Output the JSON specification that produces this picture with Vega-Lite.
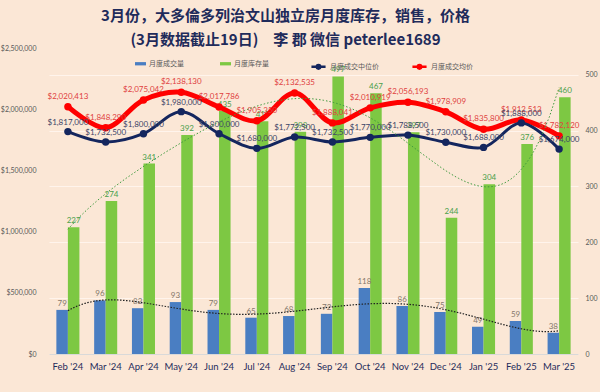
{
  "$schema": "https://vega.github.io/schema/vega-lite/v6.json",
  "width": 529,
  "height": 306,
  "autosize": {"type": "none"},
  "padding": {"left": 49, "top": 48, "right": 22, "bottom": 38},
  "background": "#FBE7D6",
  "config": {
    "view": {"stroke": null},
    "font": "Lato",
    "axis": {"labelFont": "Lato", "titleFont": "Lato"},
    "legend": {"labelFont": "Noto Sans CJK SC"}
  },
  "title": {
    "text": ["3月份，大多倫多列治文山独立房月度库存，销售，价格", "(3月数据截止19日)\u2003李 郡 微信 peterlee1689"],
    "font": "Noto Sans CJK SC",
    "fontSize": 15,
    "fontWeight": "bold",
    "color": "#1F2B5B",
    "lineHeight": 24,
    "anchor": "middle",
    "dx": -28,
    "offset": -4
  },
  "data": {
    "values": [
      {"month": "Feb '24", "idx": 0, "月度成交量": 79, "月度库存量": 227, "月度成交中位价": 1817000, "月度成交均价": 2020413},
      {"month": "Mar '24", "idx": 1, "月度成交量": 96, "月度库存量": 274, "月度成交中位价": 1732500, "月度成交均价": 1848290},
      {"month": "Apr '24", "idx": 2, "月度成交量": 82, "月度库存量": 341, "月度成交中位价": 1800000, "月度成交均价": 2075042},
      {"month": "May '24", "idx": 3, "月度成交量": 93, "月度库存量": 392, "月度成交中位价": 1980000, "月度成交均价": 2138130},
      {"month": "Jun '24", "idx": 4, "月度成交量": 79, "月度库存量": 435, "月度成交中位价": 1800000, "月度成交均价": 2017786},
      {"month": "Jul '24", "idx": 5, "月度成交量": 65, "月度库存量": 417, "月度成交中位价": 1680000, "月度成交均价": 1905350},
      {"month": "Aug '24", "idx": 6, "月度成交量": 68, "月度库存量": 398, "月度成交中位价": 1772500, "月度成交均价": 2132535},
      {"month": "Sep '24", "idx": 7, "月度成交量": 72, "月度库存量": 497, "月度成交中位价": 1732500, "月度成交均价": 1888041},
      {"month": "Oct '24", "idx": 8, "月度成交量": 118, "月度库存量": 467, "月度成交中位价": 1770000, "月度成交均价": 2010919},
      {"month": "Nov '24", "idx": 9, "月度成交量": 86, "月度库存量": 397, "月度成交中位价": 1788500, "月度成交均价": 2056193},
      {"month": "Dec '24", "idx": 10, "月度成交量": 75, "月度库存量": 244, "月度成交中位价": 1730000, "月度成交均价": 1978909},
      {"month": "Jan '25", "idx": 11, "月度成交量": 49, "月度库存量": 304, "月度成交中位价": 1688000, "月度成交均价": 1835800},
      {"month": "Feb '25", "idx": 12, "月度成交量": 59, "月度库存量": 376, "月度成交中位价": 1888000, "月度成交均价": 1912513},
      {"month": "Mar '25", "idx": 13, "月度成交量": 38, "月度库存量": 460, "月度成交中位价": 1674000, "月度成交均价": 1782120}
    ]
  },
  "resolve": {"scale": {"x": "independent", "y": "independent"}},
  "layer": [
    {
      "transform": [{"fold": ["月度成交量", "月度库存量"], "as": ["key", "value"]}],
      "encoding": {
        "x": {
          "field": "month", "type": "nominal", "sort": null,
          "scale": {"paddingInner": 0.39, "paddingOuter": 0.195},
          "axis": {"title": null, "labelAngle": 0, "labelFontSize": 9.5, "labelColor": "#1F2B5B", "labelPadding": 7, "ticks": false, "domainColor": "#D9D9D9", "domainWidth": 1}
        },
        "xOffset": {"field": "key", "type": "nominal", "sort": ["月度成交量", "月度库存量"], "scale": {"paddingInner": 0, "paddingOuter": 0}},
        "y": {
          "field": "value", "type": "quantitative",
          "scale": {"domain": [0, 548], "nice": false},
          "axis": {"orient": "right", "title": null, "values": [0, 100, 200, 300, 400, 500], "labelFontSize": 7, "labelColor": "#595959", "labelPadding": 7, "ticks": false, "domain": false, "grid": true, "gridColor": "#FFF4EC", "gridWidth": 1}
        }
      },
      "layer": [
        {
          "mark": {"type": "bar"},
          "encoding": {
            "fill": {
              "field": "key", "type": "nominal",
              "scale": {"domain": ["月度成交量", "月度库存量"], "range": ["#4A7EC2", "#7DC843"]},
              "legend": {
                "orient": "none", "legendX": 86, "legendY": 10, "direction": "horizontal", "title": null,
                "symbolType": "M-1,-0.3H1V0.3H-1Z", "symbolSize": 120, "symbolStrokeWidth": 0,
                "labelFontSize": 7, "labelColor": "#595959", "columnPadding": 36, "labelOffset": 3
              }
            }
          }
        },
        {
          "mark": {"type": "text", "baseline": "bottom", "dy": -2, "fontSize": 8},
          "encoding": {
            "text": {"field": "value", "type": "quantitative"},
            "color": {"condition": {"test": "datum.key === '月度成交量'", "value": "#85776A"}, "value": "#4AA04A"}
          }
        }
      ]
    },
    {
      "encoding": {
        "x": {"field": "month", "type": "nominal", "sort": null, "scale": {"paddingInner": 0.39, "paddingOuter": 0.195}, "axis": null},
        "y": {"type": "quantitative", "scale": {"domain": [0, 2500000], "nice": false},
          "axis": {"orient": "left", "title": null, "values": [0, 500000, 1000000, 1500000, 2000000, 2500000], "format": "$,d", "labelFontSize": 7, "labelColor": "#595959", "labelPadding": 13, "ticks": false, "domain": false, "grid": false}}
      },
      "layer": [
        {
          "mark": {"type": "line", "interpolate": "catmull-rom", "strokeWidth": 5},
          "encoding": {
            "y": {"field": "月度成交均价"},
            "stroke": {"datum": "月度成交均价", "scale": {"domain": ["月度成交中位价", "月度成交均价"], "range": ["#14265E", "#FF0000"]},
              "legend": {"orient": "none", "legendX": 261, "legendY": 10, "direction": "horizontal", "title": null,
                "symbolType": "M-1,0H1M0.25,0A0.25,0.25 0 1,1 -0.25,0A0.25,0.25 0 1,1 0.25,0", "symbolSize": 200, "symbolStrokeWidth": 2.5,
                "labelFontSize": 7, "labelColor": "#595959", "columnPadding": 28, "labelOffset": 3}}
          }
        },
        {
          "mark": {"type": "line", "interpolate": "catmull-rom", "strokeWidth": 3},
          "encoding": {
            "y": {"field": "月度成交中位价"},
            "stroke": {"datum": "月度成交中位价"}
          }
        },
        {
          "mark": {"type": "point", "filled": true, "size": 55, "color": "#FF0000", "opacity": 1},
          "encoding": {"y": {"field": "月度成交均价"}}
        },
        {
          "mark": {"type": "point", "filled": true, "size": 55, "color": "#14265E", "opacity": 1},
          "encoding": {"y": {"field": "月度成交中位价"}}
        },
        {
          "mark": {"type": "text", "baseline": "bottom", "dy": -6, "fontSize": 8, "color": "#E0413F"},
          "encoding": {"y": {"field": "月度成交均价"}, "text": {"field": "月度成交均价", "type": "quantitative", "format": "$,d"}}
        },
        {
          "mark": {"type": "text", "baseline": "bottom", "dy": -5, "fontSize": 8, "color": "#3D4466"},
          "encoding": {"y": {"field": "月度成交中位价"}, "text": {"field": "月度成交中位价", "type": "quantitative", "format": "$,d"}}
        }
      ]
    },
    {
      "encoding": {
        "x": {"field": "idx", "type": "quantitative", "scale": {"domain": [-0.5, 13.5], "nice": false, "zero": false}, "axis": null}
      },
      "layer": [
        {
          "transform": [{"regression": "月度库存量", "on": "idx", "method": "poly", "order": 5}],
          "mark": {"type": "line", "stroke": "#3F9A3F", "strokeWidth": 1, "strokeDash": [1.5, 2]},
          "encoding": {"y": {"field": "月度库存量", "type": "quantitative", "scale": {"domain": [0, 548], "nice": false}, "axis": null}}
        },
        {
          "transform": [{"regression": "月度成交量", "on": "idx", "method": "poly", "order": 5}],
          "mark": {"type": "line", "stroke": "#222222", "strokeWidth": 1.2, "strokeDash": [1.5, 1.5]},
          "encoding": {"y": {"field": "月度成交量", "type": "quantitative", "scale": {"domain": [0, 548], "nice": false}, "axis": null}}
        }
      ]
    }
  ]
}
